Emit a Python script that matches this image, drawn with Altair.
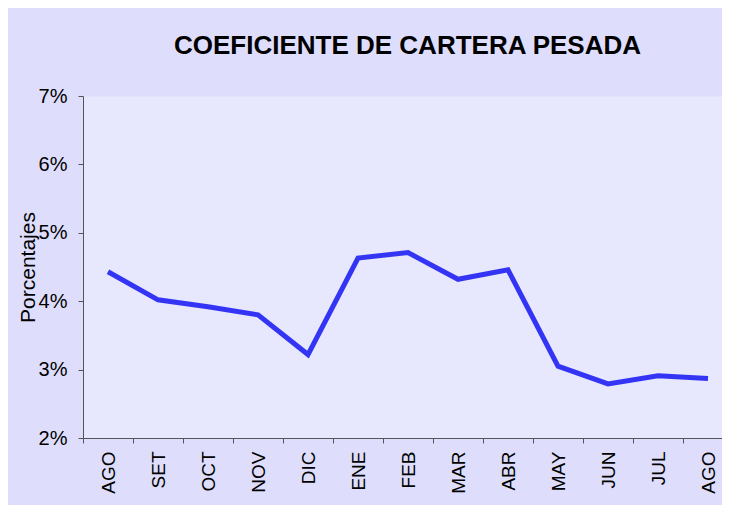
import json
import altair as alt
import pandas as pd

months = ["AGO", "SET", "OCT", "NOV", "DIC", "ENE", "FEB", "MAR", "ABR", "MAY", "JUN", "JUL", "AGO"]
values = [4.43, 4.02, 3.92, 3.80, 3.22, 4.63, 4.71, 4.32, 4.46, 3.05, 2.79, 2.91, 2.87]
y_ticks = [2, 3, 4, 5, 6, 7]

df = pd.DataFrame({"pos": list(range(len(months))), "mes": months, "valor": values})

x_tick_values = [i - 0.5 for i in range(len(months))]
label_expr = json.dumps(months) + "[round(datum.value + 0.5)]"

FONT = "Liberation Sans"

chart = (
    alt.Chart(df)
    .mark_line(color="#3434F4", strokeWidth=5, strokeJoin="miter")
    .encode(
        x=alt.X(
            "pos:Q",
            scale=alt.Scale(domain=[-0.5, 12.28], nice=False, zero=False),
            axis=alt.Axis(
                values=x_tick_values,
                labelExpr=label_expr,
                labelOffset=25,
                labelAngle=270,
                labelAlign="right",
                labelBaseline="middle",
                labelPadding=8,
                labelFontSize=19,
                labelFont=FONT,
                labelColor="#000000",
                labelOverlap=False,
                labelFlush=False,
                tickSize=5,
                tickColor="#555555",
                domainColor="#555555",
                grid=False,
                title=None,
            ),
        ),
        y=alt.Y(
            "valor:Q",
            scale=alt.Scale(domain=[2, 7], nice=False, zero=False),
            axis=alt.Axis(
                values=y_ticks,
                labelExpr="datum.value + '%'",
                labelFontSize=20,
                labelFont=FONT,
                labelColor="#000000",
                labelPadding=11,
                tickSize=5,
                tickColor="#555555",
                domainColor="#555555",
                grid=False,
                title="Porcentajes",
                titleFont=FONT,
                titleFontSize=21,
                titleFontWeight="normal",
                titleColor="#000000",
                titlePadding=0,
            ),
        ),
    )
    .properties(
        width=639,
        height=342,
        title=alt.TitleParams(
            "COEFICIENTE DE CARTERA PESADA",
            font=FONT,
            fontSize=26,
            fontWeight="bold",
            color="#000000",
            offset=6,
            baseline="alphabetic",
            dx=5,
        ),
        autosize=alt.AutoSizeParams(type="none"),
        padding={"left": 75, "top": 88, "right": 0, "bottom": 67},
        background="#DEDEFC",
    )
    .configure_view(fill="#E7E7FE", stroke="transparent")
)

chart.save("out.html", embed_options={"renderer": "svg", "actions": False})
